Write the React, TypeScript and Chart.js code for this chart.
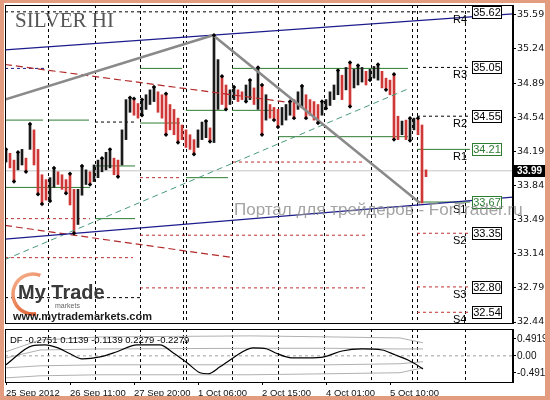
import { useEffect, useRef } from 'react';
import { Chart, registerables } from 'chart.js';

Chart.register(...registerables);

// ---- price bars (H1, sampled) ----
const barHigh = [34.21, 34.17, 34.10, 34.18, 34.21, 34.12, 34.47, 34.41, 34.21, 33.95,
  33.90, 33.92, 34.02, 33.98, 33.95, 33.90, 33.96, 33.80, 33.80, 34.04,
  34.00, 33.98, 34.05, 34.10, 34.12, 34.18, 34.21, 34.12, 34.10, 34.41,
  34.72, 34.74, 34.73, 34.68, 34.72, 34.77, 34.82, 34.85, 34.80, 34.77,
  34.78, 34.67, 34.62, 34.53, 34.46, 34.41, 34.36, 34.31, 34.41, 34.49,
  34.50, 34.43, 35.38, 35.13, 34.96, 34.87, 34.82, 34.85, 34.82, 34.80,
  34.87, 34.92, 34.84, 35.05, 34.87, 34.77, 34.67, 34.64, 34.62, 34.64,
  34.67, 34.70, 34.72, 34.80, 34.86, 34.77, 34.72, 34.70, 34.67, 34.70,
  34.72, 34.80, 34.87, 35.02, 34.97, 35.05, 35.10, 35.03, 35.07, 35.05,
  35.01, 35.03, 35.06, 35.08, 35.01, 34.94, 34.92, 34.98, 34.55, 34.50,
  34.51, 34.53, 34.53, 34.53, 34.46, 34.00];
const barLow = [34.08, 34.02, 33.88, 34.00, 34.05, 33.98, 34.21, 34.05, 33.75, 33.65,
  33.69, 33.68, 33.82, 33.85, 33.80, 33.76, 33.64, 33.35, 33.44, 33.74,
  33.85, 33.85, 33.88, 33.92, 33.98, 34.00, 34.02, 33.95, 33.93, 34.05,
  34.31, 34.59, 34.56, 34.53, 34.56, 34.62, 34.67, 34.70, 34.59, 34.53,
  34.36, 34.41, 34.36, 34.28, 34.31, 34.23, 34.21, 34.16, 34.23, 34.31,
  34.33, 34.29, 34.28, 34.62, 34.67, 34.62, 34.67, 34.72, 34.70, 34.72,
  34.70, 34.72, 34.67, 34.62, 34.36, 34.51, 34.53, 34.51, 34.44, 34.46,
  34.51, 34.56, 34.53, 34.62, 34.64, 34.53, 34.56, 34.51, 34.48, 34.56,
  34.63, 34.66, 34.72, 34.77, 34.72, 34.82, 34.65, 34.84, 34.87, 34.90,
  34.87, 34.92, 34.94, 34.92, 34.84, 34.82, 34.77, 34.31, 34.31, 34.36,
  34.31, 34.30, 34.41, 34.36, 33.66, 33.93];

const upFractals = [0, 3, 6, 12, 16, 19, 24, 26, 31, 32, 34, 37, 40, 50, 52, 54, 57, 61, 63, 64, 71, 74, 79, 83, 86, 88, 93, 97, 101, 103];
const downFractals = [2, 5, 8, 9, 11, 15, 17, 21, 28, 34, 40, 43, 47, 51, 55, 60, 64, 67, 68, 72, 75, 78, 80, 86, 91, 95, 97, 101];

const lastPrice = 33.99;
const priceTicks = [35.59, 35.24, 34.89, 34.54, 34.19, 33.84, 33.49, 33.14, 32.79, 32.44];
const gridTimes = [10.5, 22.25, 33.5, 44.25, 45, 56.5, 68, 79.5, 91.25, 101.5, 102.75, 114.75];
const timeTickPos = [0, 16, 32, 48, 64, 80, 96];
const timeLabels = ['25 Sep 2012', '26 Sep 11:00', '27 Sep 20:00', '1 Oct 06:00', '2 Oct 15:00', '4 Oct 01:00', '5 Oct 10:00'];

// ---- pivot levels (current day) ----
const pivotNames = ['R4', 'R3', 'R2', 'R1', 'S1', 'S2', 'S3', 'S4'];
const pivotValues = [35.62, 35.05, 34.55, 34.21, 33.67, 33.35, 32.80, 32.54];
const pivotGreen = [false, false, false, true, true, false, false, false];

// ---- daily pivot segments ----
const segStart = [-0.25, -0.25, 33.5, 56.5, 102.75, -0.25, 10.75, 22.25, 33.5, 45, 56.5, 68, 102.75, 102.75, -0.25, 22.25, 45, 22.25, -0.25, 33.5, 56.75, 33.5, 102.75, -0.25, 33.5, 102.75, 102.75, -0.25, 102.75];
const segEnd = [116, 10.25, 44, 100.5, 116, 9.25, 20.75, 32.75, 43.5, 55.25, 67.25, 100.5, 116, 116, 21, 32.25, 55.5, 32.25, 21, 44, 89.75, 89.75, 116, 31.75, 89.75, 116, 116, 33.5, 116];
const segPrice = [35.62, 35.04, 35.04, 35.04, 35.05, 34.51, 34.51, 34.49, 34.48, 34.61, 34.61, 34.34, 34.55, 34.21, 33.82, 34.04, 33.92, 33.50, 33.50, 33.92, 34.08, 33.33, 33.35, 33.10, 32.79, 32.80, 32.54, 32.69, 33.67];
const segKind = ['k', 'b', 'g', 'g', 'k', 'g', 'g', 'k', 'g', 'g', 'g', 'g', 'k', 'g', 'g', 'g', 'g', 'g', 'r', 'r', 'r', 'r', 'r', 'r', 'r', 'r', 'r', 'k', 'g'];

// ---- trend lines ----
const grayZigzag = [[-0.25, 34.72], [51.75, 35.38], [103.5, 33.66]];
const blueUpper = [[-0.25, 35.23], [126.75, 35.60]];
const blueLower = [[-0.25, 33.29], [126.75, 33.72]];
const redUpper = [[-0.25, 35.08], [71, 34.69]];
const redLower = [[-0.25, 33.43], [56.75, 33.10]];
const greenDiag = [[-0.25, 33.08], [100.5, 34.83]];

// ---- DF indicator ----
const dfX = [0, 6.5, 9.75, 13, 16, 19.25, 23.5, 27.75, 32.75, 38.5, 41.75, 45.25, 48.5, 50.5, 53.5, 56.75, 61.75, 65.25, 67.25, 71.5, 75.5, 79.5, 84, 89, 94, 97.25, 100.5, 102.25, 104.25];
const dfY = [-0.26, 0.29, 0.32, 0.23, 0.06, -0.09, -0.03, 0.12, 0.32, 0.32, 0.09, -0.20, -0.49, -0.52, -0.32, -0.06, 0.23, 0.20, 0.09, -0.06, -0.06, -0.03, 0.14, 0.20, 0.17, 0.03, -0.12, -0.23, -0.38];
const bandX = [0, 8.5, 23.5, 61, 81, 98.5, 104.25];
const band1 = [0.12, 0.46, 0.55, 0.58, 0.55, 0.52, 0.38];
const band2 = [-0.06, 0.17, 0.20, 0.22, 0.22, 0.20, 0.20];
const band3 = [-0.35, -0.29, -0.26, -0.26, -0.26, -0.23, -0.17];
const band4 = [-0.64, -0.58, -0.55, -0.55, -0.52, -0.49, -0.35];
const dfTicks = [0.4919, 0, -0.4919];
const dfLegend = 'DF -0.2751 0.1139 -0.1139 0.2279 -0.2279';

const X_MIN = -0.25;
const X_MAX = 126.75;

function pts(arr: number[][]) {
  return arr.map(([x, y]) => ({ x, y }));
}

function segData(kind: string) {
  const out: any[] = [];
  segKind.forEach((k, i) => {
    if (k !== kind) return;
    out.push({ x: segStart[i], y: segPrice[i] }, { x: segEnd[i], y: segPrice[i] }, { x: segEnd[i], y: null });
  });
  return out;
}

function lineDs(data: any[], color: string, width: number, dash: number[], order: number) {
  return {
    type: 'line',
    data,
    borderColor: color,
    borderWidth: width,
    borderDash: dash,
    pointRadius: 0,
    fill: false,
    tension: 0,
    spanGaps: false,
    order,
  };
}

export default function App() {
  const mainRef = useRef<HTMLCanvasElement>(null);
  const dfRef = useRef<HTMLCanvasElement>(null);

  useEffect(() => {
    document.body.style.margin = '0';
    Chart.defaults.font.family = '"Liberation Sans", Arial, sans-serif';

    const mids = barHigh.map((h, i) => (h + barLow[i]) / 2);
    const candleColors = mids.map((m, i) => (i === 0 || m >= mids[i - 1] ? '#1a1a1a' : '#d03838'));
    const candleData = barHigh.map((h, i) => ({ x: i, y: [barLow[i], h] }));

    const vGrid = {
      id: 'vGrid',
      beforeDatasetsDraw(chart: any) {
        const { ctx, chartArea: a, scales } = chart;
        ctx.save();
        ctx.strokeStyle = '#000';
        ctx.lineWidth = 1;
        ctx.setLineDash([3, 3]);
        gridTimes.forEach((t) => {
          const px = Math.round(scales.x.getPixelForValue(t)) + 0.5;
          ctx.beginPath();
          ctx.moveTo(px, a.top);
          ctx.lineTo(px, a.bottom);
          ctx.stroke();
        });
        ctx.restore();
      },
      afterDraw(chart: any) {
        const { ctx, chartArea: a } = chart;
        ctx.save();
        ctx.strokeStyle = '#000';
        ctx.lineWidth = 1;
        ctx.setLineDash([]);
        ctx.strokeRect(a.left + 0.5, a.top + 0.5, a.right - a.left - 1, a.bottom - a.top);
        ctx.restore();
      },
    };

    const mainDecor = {
      id: 'mainDecor',
      afterDatasetsDraw(chart: any) {
        const { ctx, scales } = chart;
        const xs = scales.x;
        const ys = scales.y;
        ctx.save();
        const nameX = xs.getPixelForValue(111.75);
        const boxL = xs.getPixelForValue(116.5);
        pivotValues.forEach((v, i) => {
          const y = Math.round(ys.getPixelForValue(v));
          const col = pivotGreen[i] ? '#2e7d32' : '#000';
          ctx.font = '11px "Liberation Sans"';
          ctx.fillStyle = '#000';
          ctx.textBaseline = 'top';
          ctx.textAlign = 'left';
          ctx.fillText(pivotNames[i], nameX, y + 2);
          ctx.fillStyle = '#fff';
          ctx.fillRect(boxL, y - 6, 30, 12);
          ctx.strokeStyle = col;
          ctx.lineWidth = 1;
          ctx.strokeRect(boxL + 0.5, y - 5.5, 29, 12);
          ctx.fillStyle = col;
          ctx.textAlign = 'center';
          ctx.textBaseline = 'middle';
          ctx.font = '11px "Liberation Sans"';
          ctx.fillText(v.toFixed(2), boxL + 15, y + 1);
        });
        ctx.textAlign = 'left';
        ctx.textBaseline = 'alphabetic';
        ctx.font = '21px "Liberation Serif"';
        ctx.fillStyle = '#555555';
        ctx.fillText('SILVER HI', 15, 27);
        const grad = ctx.createLinearGradient(12, 273, 45, 317);
        grad.addColorStop(0, '#f7b893');
        grad.addColorStop(1, '#dd5022');
        ctx.strokeStyle = grad;
        ctx.lineWidth = 3.5;
        ctx.beginPath();
        ctx.arc(33, 294, 20, -0.38 * Math.PI, 0.45 * Math.PI, true);
        ctx.stroke();
        ctx.font = 'bold 20px "Liberation Sans"';
        ctx.fillStyle = '#3a3a3a';
        ctx.fillText('My Trade', 18, 299);
        ctx.font = '7px "Liberation Sans"';
        ctx.fillStyle = '#666';
        ctx.fillText('markets', 55, 308);
        ctx.font = 'bold 11px "Liberation Sans"';
        ctx.fillStyle = '#1a1a1a';
        ctx.fillText('www.mytrademarkets.com', 13, 320);
        ctx.restore();
      },
      afterDraw(chart: any) {
        const { ctx, chartArea: a, scales } = chart;
        const y = Math.round(scales.y.getPixelForValue(lastPrice));
        ctx.save();
        ctx.fillStyle = '#000';
        ctx.fillRect(a.right + 1, y - 6, 35, 12);
        ctx.fillStyle = '#fff';
        ctx.font = 'bold 10px "Liberation Sans"';
        ctx.textBaseline = 'middle';
        ctx.textAlign = 'left';
        ctx.fillText(lastPrice.toFixed(2), a.right + 4, y + 0.5);
        ctx.font = '17px "Liberation Sans"';
        ctx.fillStyle = 'rgba(140,140,140,0.8)';
        ctx.textBaseline = 'alphabetic';
        ctx.fillText('Портал для трейдеров - ForTrader.ru', 234, 215);
        ctx.restore();
      },
    };

    const main = new Chart(mainRef.current as HTMLCanvasElement, {
      type: 'bar',
      data: {
        datasets: [
          { type: 'line', data: upFractals.map((i) => ({ x: i, y: barHigh[i] })), showLine: false, pointStyle: 'rectRot', pointRadius: 2.2, pointBackgroundColor: '#000', pointBorderColor: '#000', pointBorderWidth: 0, order: 0 } as any,
          { type: 'line', data: downFractals.map((i) => ({ x: i, y: barLow[i] })), showLine: false, pointStyle: 'rectRot', pointRadius: 2.2, pointBackgroundColor: '#000', pointBorderColor: '#000', pointBorderWidth: 0, order: 0 } as any,
          lineDs(pts(grayZigzag), '#8a8a8a', 2.5, [], 1) as any,
          lineDs(pts(blueUpper), '#1c1c8c', 1.2, [], 1) as any,
          lineDs(pts(blueLower), '#1c1c8c', 1.2, [], 1) as any,
          lineDs(pts(redUpper), '#b22a2a', 1.2, [7, 4], 1) as any,
          lineDs(pts(redLower), '#b22a2a', 1.2, [7, 4], 1) as any,
          lineDs(pts(greenDiag), '#4a9a7a', 1, [6, 4], 1) as any,
          {
            type: 'bar',
            data: candleData,
            backgroundColor: candleColors,
            borderWidth: 0,
            barThickness: 2,
            grouped: false,
            order: 3,
          } as any,
          lineDs(segData('g'), '#2e7d32', 1, [], 4) as any,
          lineDs(segData('k'), '#000', 1, [3, 3], 4) as any,
          lineDs(segData('b'), '#1c1c8c', 1, [3, 3], 4) as any,
          lineDs(segData('r'), '#c03030', 1, [3, 3], 4) as any,
          lineDs([{ x: X_MIN, y: lastPrice }, { x: X_MAX, y: lastPrice }], '#c4c4c4', 1, [], 6) as any,
        ],
      },
      options: {
        responsive: false,
        animation: false,
        events: [],
        layout: { padding: { left: 5, top: 5, right: 0, bottom: 7 } },
        plugins: { legend: { display: false }, tooltip: { enabled: false } },
        scales: {
          x: { type: 'linear', min: X_MIN, max: X_MAX, display: false, offset: false },
          y: {
            type: 'linear',
            position: 'right',
            min: 32.43,
            max: 35.69,
            afterBuildTicks: (s: any) => { s.ticks = priceTicks.map((v) => ({ value: v })); },
            afterFit: (s: any) => { s.width = 37; s.paddingTop = 0; s.paddingBottom = 0; },
            ticks: { color: '#111', padding: 1, font: { family: '"DejaVu Sans"', size: 9.5 }, callback: (v: any) => Number(v).toFixed(2) },
            grid: { drawOnChartArea: false, drawTicks: true, tickLength: 3, color: '#000' },
            border: { display: true, color: '#000' },
          },
        },
      } as any,
      plugins: [vGrid, mainDecor],
    });

    const dfDecor = {
      id: 'dfDecor',
      afterDatasetsDraw(chart: any) {
        const { ctx } = chart;
        ctx.save();
        ctx.font = '9.5px "Liberation Sans"';
        ctx.fillStyle = '#000';
        ctx.textBaseline = 'alphabetic';
        ctx.fillText(dfLegend, 10, 18);
        ctx.restore();
      },
    };

    const df = new Chart(dfRef.current as HTMLCanvasElement, {
      type: 'line',
      data: {
        datasets: [
          lineDs([{ x: X_MIN, y: 0 }, { x: X_MAX, y: 0 }], '#a0a0a0', 1, [3, 3], 5) as any,
          lineDs(bandX.map((x, i) => ({ x, y: band1[i] })), '#b0b0b0', 1, [], 4) as any,
          lineDs(bandX.map((x, i) => ({ x, y: band2[i] })), '#b0b0b0', 1, [], 4) as any,
          lineDs(bandX.map((x, i) => ({ x, y: band3[i] })), '#b0b0b0', 1, [], 4) as any,
          lineDs(bandX.map((x, i) => ({ x, y: band4[i] })), '#b0b0b0', 1, [], 4) as any,
          { ...lineDs(dfX.map((x, i) => ({ x, y: dfY[i] })), '#000', 1.2, [], 1), cubicInterpolationMode: 'monotone' } as any,
        ],
      },
      options: {
        responsive: false,
        animation: false,
        events: [],
        layout: { padding: { left: 5, top: 4, right: 0, bottom: 0 } },
        plugins: { legend: { display: false }, tooltip: { enabled: false } },
        scales: {
          x: {
            type: 'linear',
            min: X_MIN,
            max: X_MAX,
            afterBuildTicks: (s: any) => { s.ticks = timeTickPos.map((v) => ({ value: v })); },
            afterFit: (s: any) => { s.height = 18; s.paddingLeft = 0; s.paddingRight = 0; },
            ticks: {
              autoSkip: false, maxRotation: 0, minRotation: 0, align: 'start', padding: 3, color: '#111',
              font: { size: 9.5 },
              callback: (v: any) => timeLabels[timeTickPos.indexOf(Number(v))] ?? '',
            },
            grid: { display: true, drawOnChartArea: false, drawTicks: true, tickLength: 3, color: '#000' },
            border: { display: false },
          },
          y: {
            type: 'linear',
            position: 'right',
            min: -0.76,
            max: 0.78,
            afterBuildTicks: (s: any) => { s.ticks = dfTicks.map((v) => ({ value: v })); },
            afterFit: (s: any) => { s.width = 37; s.paddingTop = 0; s.paddingBottom = 0; },
            ticks: { color: '#111', padding: 1, font: { size: 10 }, callback: (v: any) => (Number(v) === 0 ? '0.00' : Number(v).toFixed(4)) },
            grid: { drawOnChartArea: false, drawTicks: true, tickLength: 3, color: '#000' },
            border: { display: true, color: '#000' },
          },
        },
      } as any,
      plugins: [vGrid, dfDecor],
    });

    return () => {
      main.destroy();
      df.destroy();
    };
  }, []);

  return (
    <div style={{ position: 'fixed', left: 0, top: 0, width: 550, height: 400, background: '#fff', overflow: 'hidden' }}>
      <canvas ref={mainRef} width={550} height={330} style={{ position: 'absolute', left: 0, top: 0 }} />
      <canvas ref={dfRef} width={550} height={75} style={{ position: 'absolute', left: 0, top: 325 }} />
      <div
        style={{
          position: 'absolute', left: 0, top: 0, width: 550, height: 400, boxSizing: 'border-box',
          borderStyle: 'solid', borderColor: '#e49c80', borderWidth: '3px 5px 4px 4px', pointerEvents: 'none',
        }}
      />
    </div>
  );
}
